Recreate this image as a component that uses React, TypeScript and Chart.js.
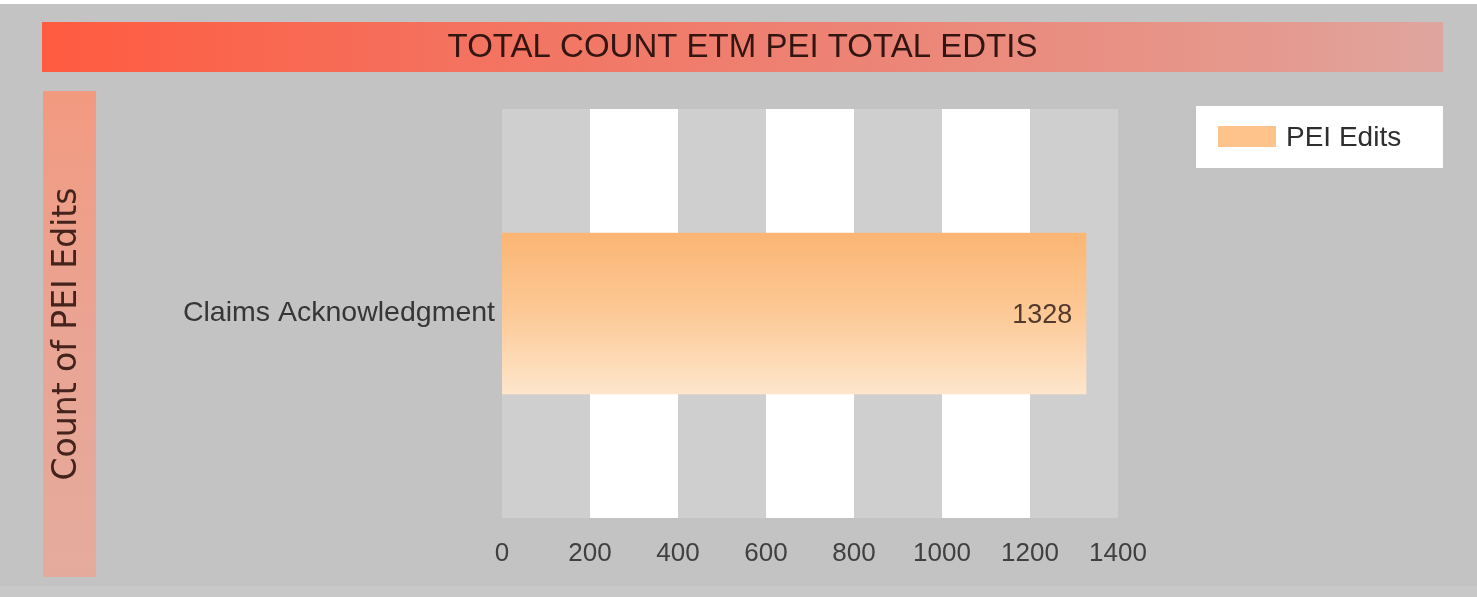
import React, { useEffect, useRef } from 'react';
import { Chart, registerables } from 'chart.js';

Chart.register(...registerables);

const TITLE = 'TOTAL COUNT ETM PEI TOTAL EDTIS';
const AXIS_TITLE = 'Count of PEI Edits';
const CATEGORIES = ['Claims Acknowledgment'];
const SERIES_LABEL = 'PEI Edits';
const SERIES_VALUES = [1328];
const X_MIN = 0;
const X_MAX = 1400;
const X_STEP = 200;

const W = 1477;
const H = 597;
const BAR_FRACTION = 0.395;
const SANS = '"Liberation Sans", Arial, sans-serif';

const decorPlugin = {
  id: 'decor',
  beforeDraw(chart: any) {
    const { ctx, width, height, chartArea } = chart;
    ctx.save();
    // background
    ctx.fillStyle = '#c3c3c3';
    ctx.fillRect(0, 0, width, height);
    ctx.fillStyle = '#ffffff';
    ctx.fillRect(0, 0, width, 4);
    ctx.fillStyle = '#c8c8c8';
    ctx.fillRect(0, height - 11, width, 11);

    // title bar
    const tx0 = 42, tx1 = width - 34, ty0 = 22, ty1 = 72;
    const tg = ctx.createLinearGradient(tx0, 0, tx1, 0);
    tg.addColorStop(0, '#ff5b40');
    tg.addColorStop(0.3, '#f4725f');
    tg.addColorStop(0.6, '#ec8577');
    tg.addColorStop(0.85, '#e6978b');
    tg.addColorStop(1, '#dea69f');
    ctx.fillStyle = tg;
    ctx.fillRect(tx0, ty0, tx1 - tx0, ty1 - ty0);
    ctx.font = '33px ' + SANS;
    ctx.fillStyle = '#331511';
    ctx.textAlign = 'center';
    ctx.textBaseline = 'middle';
    ctx.fillText(TITLE, (tx0 + tx1) / 2, (ty0 + ty1) / 2 + 1);

    // y axis title bar
    const yx0 = 43, yx1 = 96, yy0 = 91, yy1 = 577;
    const yg = ctx.createLinearGradient(0, yy0, 0, yy1);
    yg.addColorStop(0, '#f29a80');
    yg.addColorStop(0.5, '#eaa494');
    yg.addColorStop(1, '#e4ab9c');
    ctx.fillStyle = yg;
    ctx.fillRect(yx0, yy0, yx1 - yx0, yy1 - yy0);
    ctx.save();
    ctx.translate(67, (yy0 + yy1) / 2);
    ctx.rotate(-Math.PI / 2);
    ctx.font = '33px "DejaVu Sans", Verdana, sans-serif';
    ctx.fillStyle = '#43231c';
    ctx.textAlign = 'center';
    ctx.textBaseline = 'middle';
    ctx.fillText(AXIS_TITLE, 0, 0);
    ctx.restore();

    // interlaced stripes from x scale ticks
    const xs = chart.scales.x;
    const ticks = xs.ticks;
    for (let i = 0; i < ticks.length - 1; i++) {
      const a = xs.getPixelForValue(ticks[i].value);
      const b = xs.getPixelForValue(ticks[i + 1].value);
      ctx.fillStyle = i % 2 === 0 ? '#cfcfcf' : '#ffffff';
      ctx.fillRect(a, chartArea.top, b - a, chartArea.bottom - chartArea.top);
    }

    // legend
    const lx0 = 1196, ly0 = 106, lw = 247, lh = 62;
    ctx.fillStyle = '#ffffff';
    ctx.fillRect(lx0, ly0, lw, lh);
    ctx.fillStyle = '#fdc38a';
    ctx.fillRect(lx0 + 22, ly0 + 20, 58, 21);
    ctx.font = '28px ' + SANS;
    ctx.fillStyle = '#2e2e2e';
    ctx.textAlign = 'left';
    ctx.textBaseline = 'middle';
    ctx.fillText(chart.data.datasets[0].label, lx0 + 90, ly0 + 32);
    ctx.restore();
  },
  afterDatasetsDraw(chart: any) {
    const { ctx } = chart;
    const meta = chart.getDatasetMeta(0);
    ctx.save();
    ctx.font = '27px ' + SANS;
    ctx.fillStyle = '#533a2c';
    ctx.textAlign = 'right';
    ctx.textBaseline = 'middle';
    meta.data.forEach((el: any, i: number) => {
      const v = chart.data.datasets[0].data[i];
      ctx.fillText(String(v), el.x - 14, el.y + 2);
    });
    ctx.restore();
  },
};

export default function App() {
  const ref = useRef<HTMLCanvasElement | null>(null);

  useEffect(() => {
    document.body.style.margin = '0';
    const canvas = ref.current;
    if (!canvas) return;
    const chart = new Chart(canvas, {
      type: 'bar',
      data: {
        labels: CATEGORIES,
        datasets: [
          {
            label: SERIES_LABEL,
            data: SERIES_VALUES,
            categoryPercentage: 1,
            barPercentage: BAR_FRACTION,
            borderWidth: 0,
            backgroundColor: (c: any) => {
              const ch = c.chart;
              const y = ch.scales && ch.scales.y;
              if (!y || !ch.chartArea) return '#fdc48c';
              const center = y.getPixelForValue(c.dataIndex);
              const band = (y.bottom - y.top) / CATEGORIES.length;
              const half = (band * BAR_FRACTION) / 2;
              const g = ch.ctx.createLinearGradient(0, center - half, 0, center + half);
              g.addColorStop(0, '#fbb574');
              g.addColorStop(0.5, '#fcc996');
              g.addColorStop(1, '#fee6cc');
              return g;
            },
          },
        ],
      },
      options: {
        indexAxis: 'y',
        animation: false,
        responsive: false,
        devicePixelRatio: 1,
        layout: { padding: { left: 42, top: 109, right: 359, bottom: 0 } },
        plugins: {
          legend: { display: false },
          title: { display: false },
          tooltip: { enabled: false },
        },
        scales: {
          x: {
            type: 'linear',
            min: X_MIN,
            max: X_MAX,
            grid: { display: false, drawTicks: false },
            border: { display: false },
            ticks: {
              stepSize: X_STEP,
              padding: 20,
              color: '#404040',
              font: { family: SANS, size: 26 },
              callback: (v: any) => String(v),
            },
            afterFit: (s: any) => {
              s.height = 79;
            },
          },
          y: {
            type: 'category',
            grid: { display: false, drawTicks: false },
            border: { display: false },
            ticks: {
              padding: 7,
              color: '#363636',
              font: { family: SANS, size: 28.5 },
            },
            afterFit: (s: any) => {
              s.width = 460;
            },
          },
        },
      },
      plugins: [decorPlugin],
    } as any);
    return () => chart.destroy();
  }, []);

  return (
    <div style={{ width: W, height: H }}>
      <canvas ref={ref} width={W} height={H} style={{ width: W, height: H, display: 'block' }} />
    </div>
  );
}
